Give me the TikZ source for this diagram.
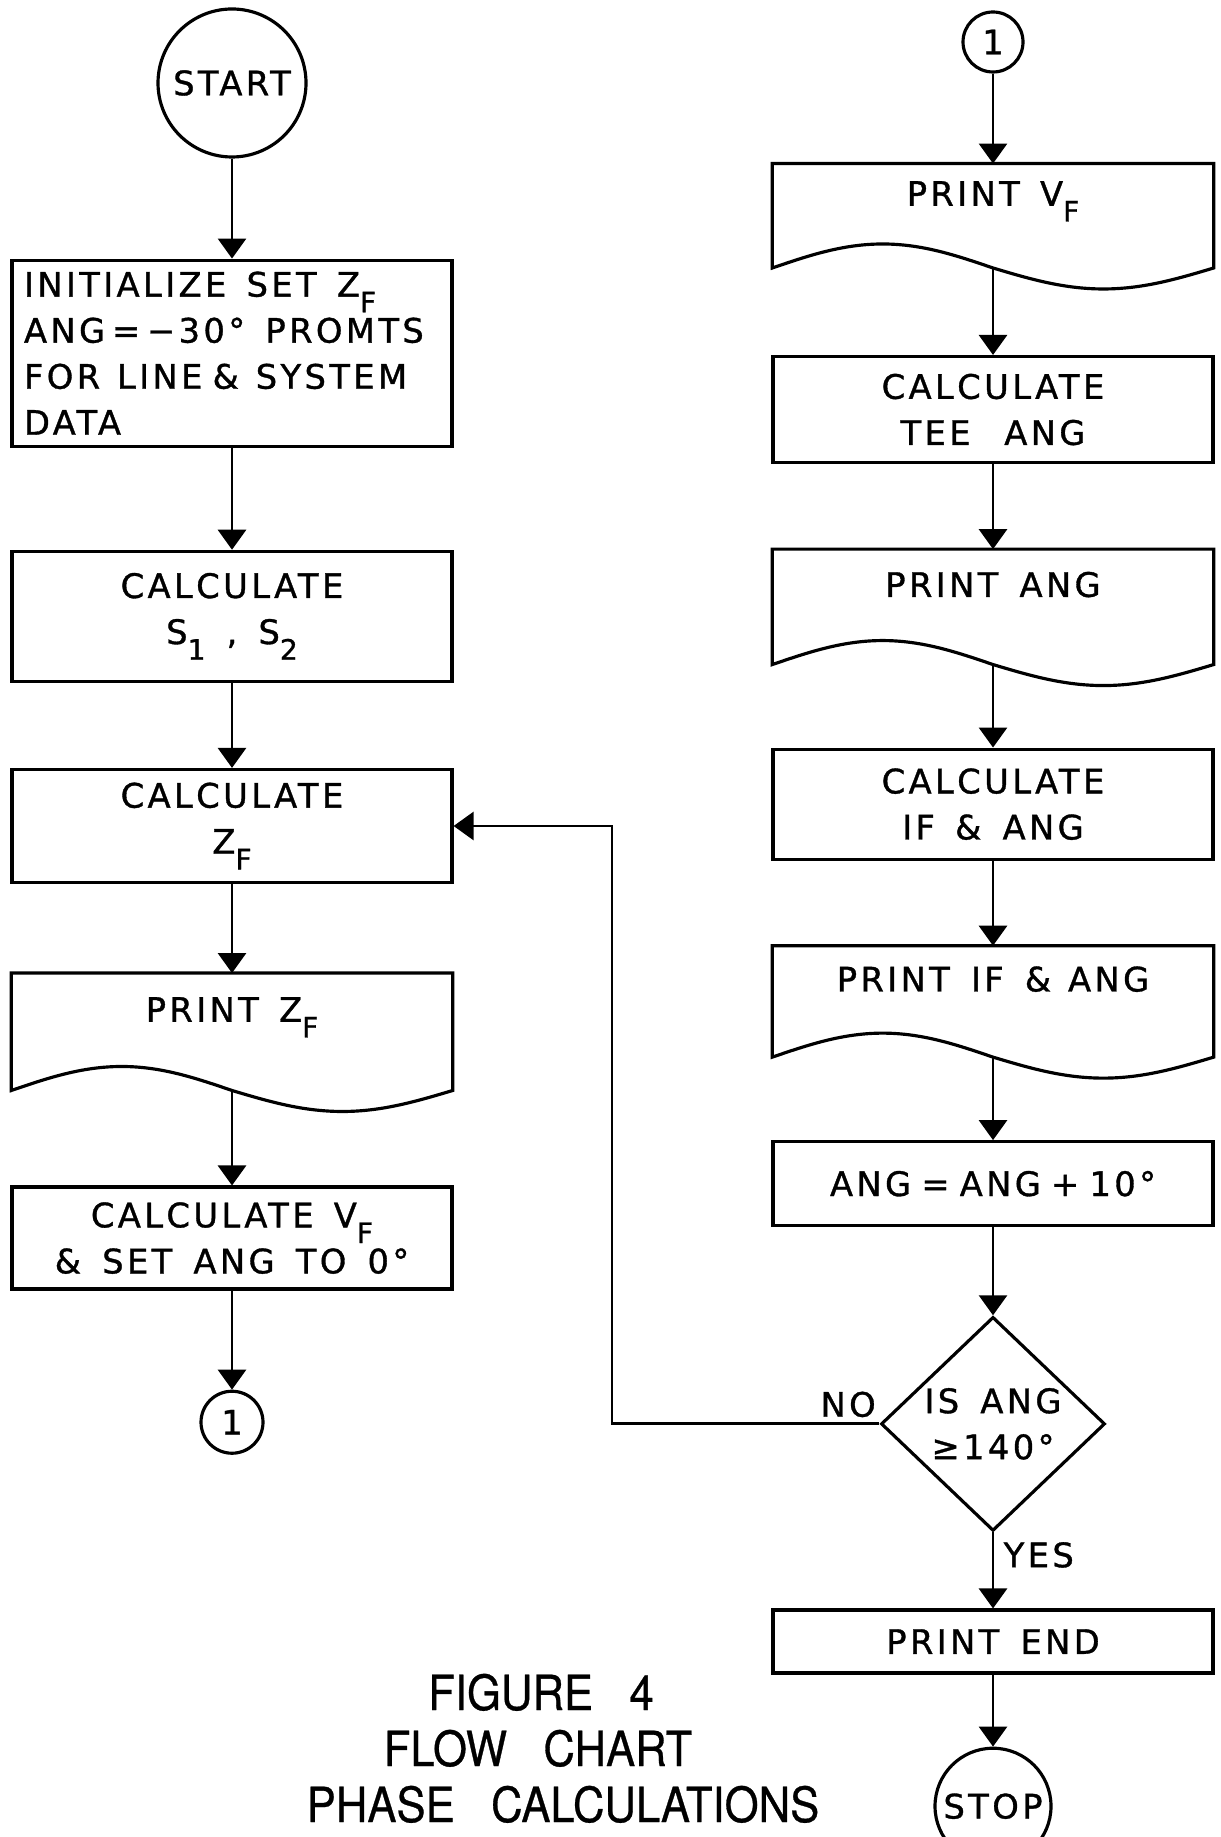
\documentclass[tikz,border=0pt]{standalone}
\usepackage{fontspec}
\newfontfamily\letterfont{DejaVu Sans}[LetterSpace=10, WordSpace=1.5, FakeBold=1]
\newfontfamily\titlefont{TeX Gyre Heros}[FakeStretch=0.9, FakeBold=0.6]
\usepackage{tikz}
\usetikzlibrary{positioning, shapes.geometric, arrows.meta, calc}

% lowered index letters (Z_F, V_F, S_1 ...)
\newcommand{\lowsub}[1]{\raisebox{-0.85ex}{\footnotesize #1}}

\begin{document}
\begin{tikzpicture}[procbox/.style={rectangle, draw=black, line width=0.9pt, minimum width=4.4cm, minimum height=#1, align=center, inner sep=0.1cm, font=\letterfont\fontsize{9.6}{13.1}\selectfont}, docbox/.style={rectangle, minimum width=4.4cm, minimum height=#1, text height=0.25cm, text depth=0.45cm, inner ysep=0.1cm, align=center, font=\letterfont\fontsize{9.6}{13.1}\selectfont}, terminal/.style={circle, draw=black, line width=0.9pt, minimum size=#1, inner sep=0pt, font=\letterfont\fontsize{9.6}{13.1}\selectfont}, decision/.style={diamond, draw=black, line width=0.9pt, minimum width=2.24cm, minimum height=2.14cm, inner sep=0pt, align=center, font=\letterfont\fontsize{9.6}{13.1}\selectfont}, answer/.style={inner sep=0pt, font=\letterfont\fontsize{9.6}{13.1}\selectfont}, outline/.style={draw=black, line width=0.9pt}, caption/.style={anchor=base, inner sep=0pt, font=\titlefont\fontsize{13.8}{16}\selectfont}, flow/.style={line width=0.8pt, -{Triangle[width=0.28cm, length=0.2cm]}}]

    \useasboundingbox (0,0) rectangle (12.20,-18.37);

    % Nodes, left column
    \node[terminal=1.48cm]  (start)     at (2.32,-0.83)             {START};
    \node[procbox=1.86cm, align=left, text width=4.16cm] (init) [below=1.00cm of start]
        {INITIALIZE\hspace{0.6em}SET\hspace{0.6em}Z\lowsub{F}\\ANG\hspace{0.2em}=\hspace{0.2em}−30°\hspace{0.6em}PROMTS\\FOR\hspace{0.5em}LINE\hspace{0.3em}\&\hspace{0.5em}SYSTEM\\DATA};
    \node[procbox=1.30cm]   (calcs)     [below=1.02cm of init]      {CALCULATE\\S\lowsub{1} , S\lowsub{2}};
    \node[procbox=1.13cm]   (calczf)    [below=0.85cm of calcs]     {CALCULATE\\Z\lowsub{F}};
    \node[docbox=1.16cm]    (printzf)   [below=0.89cm of calczf]    {PRINT\hspace{0.6em}Z\lowsub{F}};
    \node[procbox=1.02cm]   (calcvf)    [below=0.95cm of printzf]   {CALCULATE\hspace{0.6em}V\lowsub{F}\\\& SET ANG TO 0°};
    \node[terminal=0.62cm]  (conA)      [below=0.99cm of calcvf]    {1};

    % Nodes, right column
    \node[terminal=0.60cm]  (conB)      at (9.93,-0.42)             {1};
    \node[docbox=1.03cm]    (printvf)   [below=0.90cm of conB]      {PRINT\hspace{0.6em}V\lowsub{F}};
    \node[procbox=1.06cm]   (calctee)   [below=0.87cm of printvf]   {CALCULATE\\TEE\hspace{1em}ANG};
    \node[docbox=1.14cm]    (printang)  [below=0.85cm of calctee]   {PRINT ANG};
    \node[procbox=1.10cm]   (calcif)    [below=0.83cm of printang]  {CALCULATE\\IF\hspace{0.6em}\& ANG};
    \node[docbox=1.10cm]    (printif)   [below=0.85cm of calcif]    {PRINT IF \&\hspace{0.5em}ANG};
    \node[procbox=0.84cm]   (incang)    [below=0.83cm of printif]   {ANG\hspace{0.3em}=\hspace{0.3em}ANG\hspace{0.3em}+\hspace{0.3em}10°};
    \node[decision]         (test)      [below=0.88cm of incang]    {IS ANG\\≥140°};
    \node[procbox=0.63cm]   (printend)  [below=0.76cm of test]      {PRINT END};
    \node[terminal=1.16cm]  (stop)      [below=0.72cm of printend]  {STOP};

    \node[answer]           (no)        [above left=0.06cm and 0.03cm of test.west]     {NO};
    \node[answer]           (yes)       [below right=0.09cm and 0.10cm of test.south]   {YES};

    % Caption
    \node[caption]          (figno)     at (5.41,-17.10)            {FIGURE\hspace{0.75em}4};
    \node[caption]          (figtitle)  at (5.38,-17.66)            {FLOW\hspace{0.75em}CHART};
    \node[caption]          (figsub)    at (5.63,-18.22)            {PHASE\hspace{0.75em}CALCULATIONS};

    % Document outlines (wavy bottom) ---------------
    \draw[outline] (printzf.south west) -- (printzf.north west) -- (printzf.north east) -- (printzf.south east) sin ($(printzf.south)!0.5!(printzf.south east)+(0,-0.21)$) cos (printzf.south) sin ($(printzf.south)!0.5!(printzf.south west)+(0,0.24)$) cos (printzf.south west) -- cycle;
    \draw[outline] (printvf.south west) -- (printvf.north west) -- (printvf.north east) -- (printvf.south east) sin ($(printvf.south)!0.5!(printvf.south east)+(0,-0.21)$) cos (printvf.south) sin ($(printvf.south)!0.5!(printvf.south west)+(0,0.24)$) cos (printvf.south west) -- cycle;
    \draw[outline] (printang.south west) -- (printang.north west) -- (printang.north east) -- (printang.south east) sin ($(printang.south)!0.5!(printang.south east)+(0,-0.21)$) cos (printang.south) sin ($(printang.south)!0.5!(printang.south west)+(0,0.24)$) cos (printang.south west) -- cycle;
    \draw[outline] (printif.south west) -- (printif.north west) -- (printif.north east) -- (printif.south east) sin ($(printif.south)!0.5!(printif.south east)+(0,-0.21)$) cos (printif.south) sin ($(printif.south)!0.5!(printif.south west)+(0,0.24)$) cos (printif.south west) -- cycle;

    % Lines ---------------
    \draw[flow] (start.south) -- (init.north);
    \draw[flow] (init.south) -- (calcs.north);
    \draw[flow] (calcs.south) -- (calczf.north);
    \draw[flow] (calczf.south) -- (printzf.north);
    \draw[flow] (printzf.south) -- (calcvf.north);
    \draw[flow] (calcvf.south) -- (conA.north);

    \draw[flow] (conB.south) -- (printvf.north);
    \draw[flow] (printvf.south) -- (calctee.north);
    \draw[flow] (calctee.south) -- (printang.north);
    \draw[flow] (printang.south) -- (calcif.north);
    \draw[flow] (calcif.south) -- (printif.north);
    \draw[flow] (printif.south) -- (incang.north);
    \draw[flow] (incang.south) -- (test.north);
    \draw[flow] (test.south) -- (printend.north);
    \draw[flow] (printend.south) -- (stop.north);

    % back to Z_F when the angle is still below 140
    \coordinate (bend) at (6.12,0 |- calczf.east);
    \draw[flow] (test.west) -| (bend) -- (calczf.east);

\end{tikzpicture}
\end{document}
